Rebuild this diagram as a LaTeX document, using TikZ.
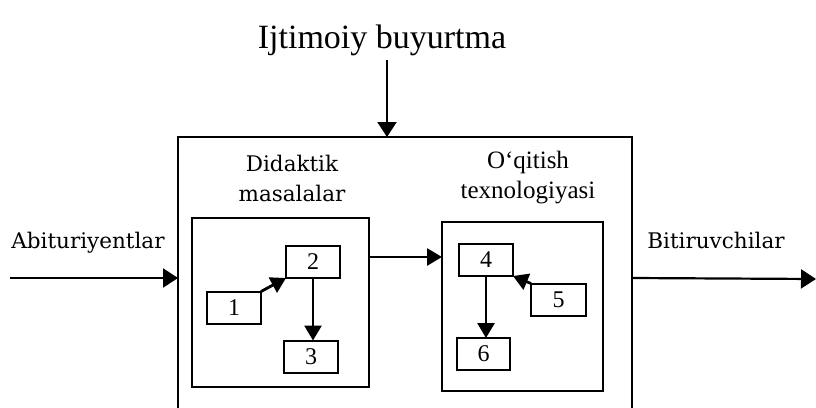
\documentclass[tikz,border=0pt]{standalone}
\usepackage{fontspec}
\setmainfont{Liberation Serif}
\newfontfamily\dvs{DejaVu Serif}
\usetikzlibrary{arrows.meta}
\begin{document}
\begin{tikzpicture}[x=1pt,y=-1pt,
  numbox/.style={draw,line width=2pt,minimum width=54pt,minimum height=32pt,inner sep=0pt,outer sep=0pt,font=\fontsize{24}{26}\selectfont},
  panel/.style={draw,line width=1.6pt,inner sep=0pt,outer sep=0pt},
  bigbox/.style={draw,line width=2.4pt,inner sep=0pt,outer sep=0pt},
  conn/.style={line width=2.8pt,-{Triangle[length=15pt,width=17pt]}},
  flow/.style={line width=2.2pt,-{Triangle[length=15pt,width=19pt]}},
  dlabel/.style={font=\dvs\fontsize{21.5}{30}\selectfont,align=center,inner sep=0pt},
  tlabel/.style={font=\fontsize{25}{30}\selectfont,align=center,inner sep=0pt}]
\useasboundingbox (0,0) rectangle (816,407);
\clip (0,0) rectangle (816,407);
% outer box (bottom edge outside the picture)
\node[bigbox,minimum width=454pt,minimum height=300pt] (outer) at (405,287) {};
% panels
\node[panel,minimum width=177pt,minimum height=169pt] (pL) at (280.5,302.5) {};
\node[panel,minimum width=161pt,minimum height=169pt] (pR) at (522.5,306.5) {};
% small boxes
\node[numbox] (b1) at (234,307.5) {1};
\node[numbox] (b2) at (313,262) {2};
\node[numbox] (b3) at (311,356.5) {3};
\node[numbox] (b4) at (486,260) {4};
\node[numbox,minimum width=55pt] (b5) at (558.5,299.5) {5};
\node[numbox,minimum width=53pt] (b6) at (483.5,354) {6};
% labels
\node[font=\fontsize{34}{38}\selectfont,inner sep=0pt] (title) at (382,40) {Ijtimoiy buyurtma};
\node[dlabel] (lDid) at (292,178) {Didaktik\\masalalar};
\node[tlabel] (lOqi) at (528,178) {O‘qitish\\texnologiyasi};
\node[dlabel] (lAbi) at (88,243) {Abituriyentlar};
\node[dlabel] (lBit) at (716,240) {Bitiruvchilar};
% coordinates
\coordinate (topstart) at (387,60);
\coordinate (instart) at (10,278);
\coordinate (outend) at (816,279);
\coordinate (midL) at (369,257);
% connectors
\draw[flow] (topstart) -- (topstart |- outer.north);
\draw[flow] (instart) -- (instart -| outer.west);
\draw[flow] (instart -| outer.east |- outend) -- (outend);
\draw[conn] (midL) -- (midL -| pR.west);
\draw[conn] (b1.north east) -- (b2.south west);
\draw[conn] (b2.south) -- (b2.south |- b3.north);
\draw[conn] (b5.north west) -- (b4.south east);
\draw[conn] (b4.south) -- (b4.south |- b6.north);
\end{tikzpicture}
\end{document}
